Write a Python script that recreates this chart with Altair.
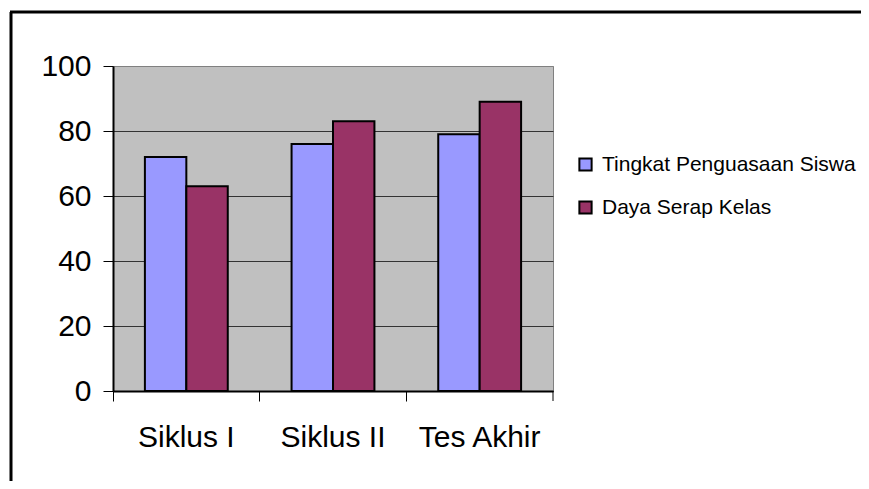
import altair as alt
import pandas as pd

categories = ["Siklus I", "Siklus II", "Tes Akhir"]
series_names = ["Tingkat Penguasaan Siswa", "Daya Serap Kelas"]
penguasaan = [72, 76, 79]
daya_serap = [63, 83, 89]
y_ticks = [0, 20, 40, 60, 80, 100]
colors = ["#9999FF", "#993366"]

rows = []
for i, c in enumerate(categories):
    rows.append({"kategori": c, "seri": series_names[0], "nilai": penguasaan[i]})
    rows.append({"kategori": c, "seri": series_names[1], "nilai": daya_serap[i]})
df = pd.DataFrame(rows)

W, H = 440, 325
FONT = "Liberation Sans"

bars = alt.Chart(df).mark_bar(stroke="black", strokeWidth=2).encode(
    x=alt.X("kategori:N", sort=categories,
            scale=alt.Scale(paddingInner=0, paddingOuter=0),
            axis=alt.Axis(title=None, labelAngle=0, bandPosition=0, grid=False,
                          domainColor="black", domainWidth=2, tickColor="black",
                          tickWidth=1, tickSize=10, labelFontSize=30,
                          labelFont=FONT, labelColor="black", labelPadding=21)),
    xOffset=alt.XOffset("seri:N", sort=series_names,
                        scale=alt.Scale(paddingOuter=0.77, paddingInner=0)),
    y=alt.Y("nilai:Q", scale=alt.Scale(domain=[0, 100], nice=False),
            axis=alt.Axis(title=None, values=y_ticks, grid=True,
                          gridColor=alt.expr("datum.value == 100 ? '#808080' : '#333333'"),
                          gridWidth=1, domainColor="black", domainWidth=2,
                          tickColor="black", tickSize=10, tickWidth=1,
                          labelFontSize=30, labelFont=FONT, labelColor="black",
                          labelPadding=12)),
    color=alt.Color("seri:N", sort=series_names,
                    scale=alt.Scale(domain=series_names, range=colors),
                    legend=alt.Legend(title=None, orient="none", legendX=462, legendY=88,
                                      symbolType="square", symbolSize=150,
                                      symbolStrokeColor="black", symbolStrokeWidth=2,
                                      labelFontSize=21, labelFont=FONT,
                                      labelColor="black", rowPadding=21,
                                      labelOffset=6, labelLimit=0, symbolOpacity=1)),
)

end_tick = alt.Chart(pd.DataFrame({"d": [0]})).mark_rule(color="black", strokeWidth=1).encode(
    x=alt.value(W), y=alt.value(H), y2=alt.value(H + 10)
)

frame_left = alt.Chart(pd.DataFrame({"d": [0]})).mark_rule(color="black", strokeWidth=3).encode(
    x=alt.value(-102), y=alt.value(-54), y2=alt.value(H + 200)
)
frame_top = alt.Chart(pd.DataFrame({"d": [0]})).mark_rule(color="black", strokeWidth=3).encode(
    x=alt.value(-103), x2=alt.value(W + 400), y=alt.value(-54)
)

chart = alt.layer(bars, end_tick, frame_left, frame_top).properties(
    width=W, height=H,
    autosize=alt.AutoSizeParams(type="none"),
    padding={"left": 105, "top": 58, "right": 308, "bottom": 90},
    background="white",
).configure_view(
    fill="#C0C0C0", stroke="#808080", strokeWidth=1
)

chart.save("out.html", embed_options={"renderer": "svg", "actions": False})
